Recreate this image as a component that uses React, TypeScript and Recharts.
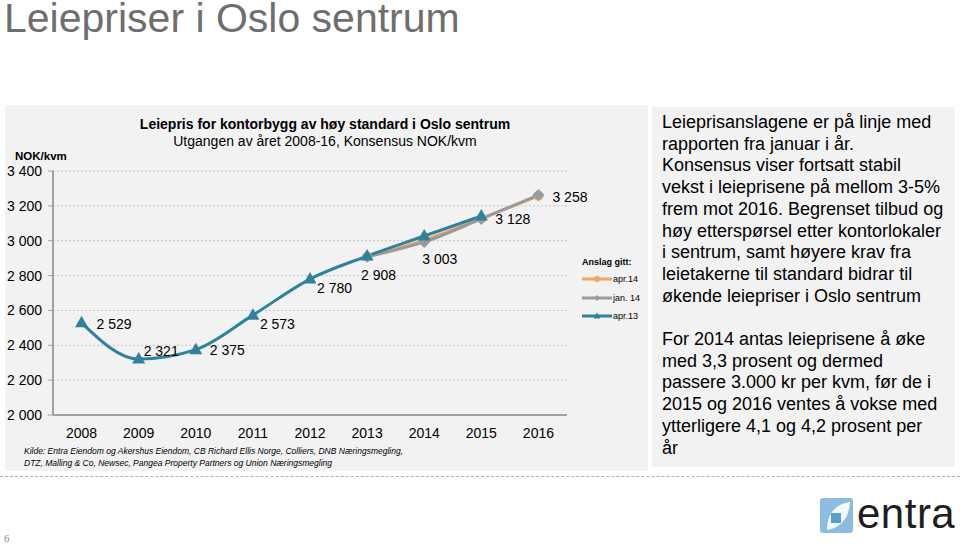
import { LineChart, Line, XAxis, YAxis, CartesianGrid, LabelList, ReferenceLine } from "recharts";

const years = [2008, 2009, 2010, 2011, 2012, 2013, 2014, 2015, 2016];
const apr14 = [null, null, null, null, null, 2908, 3003, 3128, 3258];
const jan14 = [null, null, null, null, null, 2908, 2993, 3125, 3262];
const apr13 = [2529, 2321, 2375, 2573, 2780, 2912, 3027, 3142, null];
const yTicks = [2000, 2200, 2400, 2600, 2800, 3000, 3200, 3400];
const yearEdges = [2007.5, 2008.5, 2009.5, 2010.5, 2011.5, 2012.5, 2013.5, 2014.5, 2015.5, 2016.5];
const seriesNames = ["apr.14", "jan. 14", "apr.13"];

const data = years.map((year, i) => ({
  year,
  apr14: apr14[i],
  jan14: jan14[i],
  apr13: apr13[i],
}));

const TEAL = "#2f8299";
const ORANGE = "#f2a462";
const GRAY = "#9a9a9a";
const AXIS = "#a0a0a0";
const FONT = "Arial, 'Liberation Sans', Helvetica, sans-serif";

const X_DOMAIN = [2007.5, 2016.5];
const Y_DOMAIN = [2000, 3400];
const X_TICK_STYLE = { fill: "#000", fontSize: 14, fontFamily: FONT };

const fmt = (v: number) => {
  const s = String(Math.round(v));
  return s.length > 3 ? s.slice(0, s.length - 3) + " " + s.slice(-3) : s;
};

// label nudges, by point index
const tealLabelOffsets: Record<number, [number, number]> = {
  0: [15, 1],
  1: [5, -8],
  2: [14, 0],
  3: [7, 9],
  4: [7, 9],
};
const orangeLabelOffsets: Record<number, [number, number]> = {
  5: [-6, 18],
  6: [-2, 19],
  7: [14, 1],
  8: [14, 1],
};

const makeLabel = (offsets: Record<number, [number, number]>) => (props: any) => {
  const { x, y, value, index } = props;
  const off = offsets[index];
  if (value == null || !off) return null;
  return (
    <text
      key={`lbl-${index}`}
      x={x + off[0]}
      y={y + off[1]}
      dominantBaseline="central"
      textAnchor="start"
      fontSize={14}
      fontFamily={FONT}
      fill="#000"
    >
      {fmt(value)}
    </text>
  );
};
const tealLabel = makeLabel(tealLabelOffsets);
const orangeLabel = makeLabel(orangeLabelOffsets);

// y tick labels with a space as thousands separator
const YTick = (p: any) => (
  <text
    x={p.x}
    y={p.y}
    textAnchor="end"
    dominantBaseline="central"
    fontSize={14}
    fontFamily={FONT}
    fill="#000"
  >
    {fmt(p.payload.value)}
  </text>
);

const Triangle = (p: any) => {
  const { cx, cy, index } = p;
  if (cx == null || cy == null || p.value == null) return <g key={`t-${index}`} />;
  return (
    <polygon
      key={`t-${index}`}
      points={`${cx},${cy - 7} ${cx - 6.5},${cy + 4.5} ${cx + 6.5},${cy + 4.5}`}
      fill={TEAL}
    />
  );
};

const Diamond = (p: any) => {
  const { cx, cy, index } = p;
  if (cx == null || cy == null || p.value == null) return <g key={`d-${index}`} />;
  return (
    <polygon
      key={`d-${index}`}
      points={`${cx},${cy - 6} ${cx + 6},${cy} ${cx},${cy + 6} ${cx - 6},${cy}`}
      fill={GRAY}
    />
  );
};

const Dot = (p: any) => {
  const { cx, cy, index } = p;
  if (cx == null || cy == null || p.value == null) return <g key={`c-${index}`} />;
  return <circle key={`c-${index}`} cx={cx} cy={cy} r={5} fill={ORANGE} />;
};

function LegendSample({ color, shape }: { color: string; shape: string }) {
  return (
    <svg width={30} height={8} style={{ display: "block" }}>
      <line x1={0} y1={4} x2={30} y2={4} stroke={color} strokeWidth={3} />
      {shape === "circle" && <circle cx={15} cy={4} r={3} fill={color} />}
      {shape === "diamond" && <polygon points="15,1 18,4 15,7 12,4" fill={color} />}
      {shape === "triangle" && <polygon points="15,0.5 18.5,6.5 11.5,6.5" fill={color} />}
    </svg>
  );
}

const textLines1 = [
  "Leieprisanslagene er på linje med",
  "rapporten fra januar i år.",
  "Konsensus viser fortsatt stabil",
  "vekst i leieprisene på mellom 3-5%",
  "frem mot 2016. Begrenset tilbud og",
  "høy etterspørsel etter kontorlokaler",
  "i sentrum, samt høyere krav fra",
  "leietakerne til standard bidrar til",
  "økende leiepriser i Oslo sentrum",
];
const textLines2 = [
  "For 2014 antas leieprisene å øke",
  "med 3,3 prosent og dermed",
  "passere 3.000 kr per kvm, før de i",
  "2015 og 2016 ventes å vokse med",
  "ytterligere  4,1 og 4,2 prosent per",
  "år",
];

export default function App() {
  const legendItems = [
    { name: seriesNames[0], color: ORANGE, shape: "circle" },
    { name: seriesNames[1], color: GRAY, shape: "diamond" },
    { name: seriesNames[2], color: TEAL, shape: "triangle" },
  ];
  return (
    <div
      style={{
        position: "absolute",
        left: 0,
        top: 0,
        width: 960,
        height: 548,
        background: "#fff",
        fontFamily: FONT,
        overflow: "hidden",
      }}
    >
      <div
        style={{
          position: "absolute",
          left: 4,
          top: 0,
          fontSize: 41,
          color: "#6e6e6e",
          whiteSpace: "nowrap",
          lineHeight: "36px",
        }}
      >
        Leiepriser i Oslo sentrum
      </div>

      {/* chart panel */}
      <div style={{ position: "absolute", left: 5, top: 105, width: 643, height: 366, background: "#f2f2f2" }} />
      <div
        style={{
          position: "absolute",
          left: 0,
          width: 650,
          top: 116,
          textAlign: "center",
          fontSize: 14,
          lineHeight: "17px",
          color: "#000",
        }}
      >
        <div style={{ fontWeight: "bold" }}>Leiepris for kontorbygg av høy standard i Oslo sentrum</div>
        <div>Utgangen av året 2008-16, Konsensus NOK/kvm</div>
      </div>
      <div style={{ position: "absolute", left: 15, top: 150, fontSize: 11.5, fontWeight: "bold" }}>NOK/kvm</div>

      <div style={{ position: "absolute", left: 0, top: 0 }}>
        <LineChart width={650} height={480} data={data} margin={{ top: 171, right: 83, bottom: 35, left: 5 }}>
          <CartesianGrid horizontal vertical={false} stroke="#c4c4c4" strokeDasharray="2 2" />
          <XAxis
            xAxisId="edges"
            dataKey="year"
            type="number"
            domain={X_DOMAIN}
            allowDataOverflow
            ticks={yearEdges}
            tick={false}
            stroke={AXIS}
            tickSize={5}
            height={0}
          />
          <XAxis
            dataKey="year"
            type="number"
            domain={X_DOMAIN}
            ticks={years}
            tickLine={false}
            axisLine={false}
            tickSize={5}
            tickMargin={8}
            tick={X_TICK_STYLE}
            height={30}
          />
          <YAxis
            width={48}
            domain={Y_DOMAIN}
            ticks={yTicks}
            stroke={AXIS}
            tick={YTick}
            tickSize={5}
            tickMargin={6}
          />
          <ReferenceLine y={2000} stroke={AXIS} strokeWidth={2} ifOverflow="visible" />
          <ReferenceLine x={2007.5} stroke={AXIS} strokeWidth={2} ifOverflow="visible" />
          <Line
            type="monotone"
            dataKey="apr14"
            stroke={ORANGE}
            strokeWidth={3}
            dot={Dot}
            activeDot={false}
            isAnimationActive={false}
          >
            <LabelList dataKey="apr14" content={orangeLabel} />
          </Line>
          <Line
            type="monotone"
            dataKey="jan14"
            stroke={GRAY}
            strokeWidth={3}
            dot={Diamond}
            activeDot={false}
            isAnimationActive={false}
          />
          <Line
            type="monotone"
            dataKey="apr13"
            stroke={TEAL}
            strokeWidth={3}
            dot={Triangle}
            activeDot={false}
            isAnimationActive={false}
          >
            <LabelList dataKey="apr13" content={tealLabel} />
          </Line>
        </LineChart>
      </div>

      {/* legend */}
      <div style={{ position: "absolute", left: 582, top: 257, fontSize: 9, color: "#000" }}>
        <div style={{ fontWeight: "bold", marginBottom: 3 }}>Anslag gitt:</div>
        {legendItems.map((it) => (
          <div key={it.name} style={{ display: "flex", alignItems: "center", height: 18.5 }}>
            <LegendSample color={it.color} shape={it.shape} />
            <span style={{ marginLeft: 1 }}>{it.name}</span>
          </div>
        ))}
      </div>

      <div
        style={{
          position: "absolute",
          left: 24,
          top: 446,
          fontSize: 8.5,
          fontStyle: "italic",
          lineHeight: "11.5px",
          color: "#000",
        }}
      >
        <div>Kilde: Entra Eiendom og Akershus Eiendom, CB Richard Ellis Norge, Colliers, DNB Næringsmegling,</div>
        <div>DTZ, Malling &amp; Co, Newsec, Pangea Property Partners og Union Næringsmegling</div>
      </div>

      {/* text panel */}
      <div
        style={{
          position: "absolute",
          left: 652,
          top: 107,
          width: 303,
          height: 360,
          background: "#f2f2f2",
        }}
      />
      <div
        style={{
          position: "absolute",
          left: 662,
          top: 112,
          fontSize: 18,
          lineHeight: "21.7px",
          color: "#000",
          whiteSpace: "nowrap",
        }}
      >
        {textLines1.map((l) => (
          <div key={l}>{l}</div>
        ))}
        <div style={{ height: 21.7 }} />
        {textLines2.map((l) => (
          <div key={l}>{l}</div>
        ))}
      </div>

      <div
        style={{
          position: "absolute",
          left: 0,
          top: 476,
          width: 960,
          borderTop: "1px dashed #b0b0b0",
        }}
      />

      <div style={{ position: "absolute", left: 4, top: 532, fontSize: 11, fontFamily: "serif", color: "#888" }}>6</div>

      {/* logo */}
      <svg style={{ position: "absolute", left: 819, top: 496 }} width={36} height={40}>
        <rect x={1} y={2} width={33} height={35} rx={3} fill="#8cbde0" />
        <path d="M8 34 C8 18 16 8 31 6 C30 22 22 32 8 34 Z" fill="#ffffff" opacity={0.9} />
        <rect x={12} y={17} width={10} height={10} fill="#5a9fd0" />
      </svg>
      <div
        style={{
          position: "absolute",
          left: 857,
          top: 490,
          fontSize: 42,
          color: "#1e1e1e",
          letterSpacing: 0.5,
          lineHeight: "48px",
        }}
      >
        entra
      </div>
    </div>
  );
}
